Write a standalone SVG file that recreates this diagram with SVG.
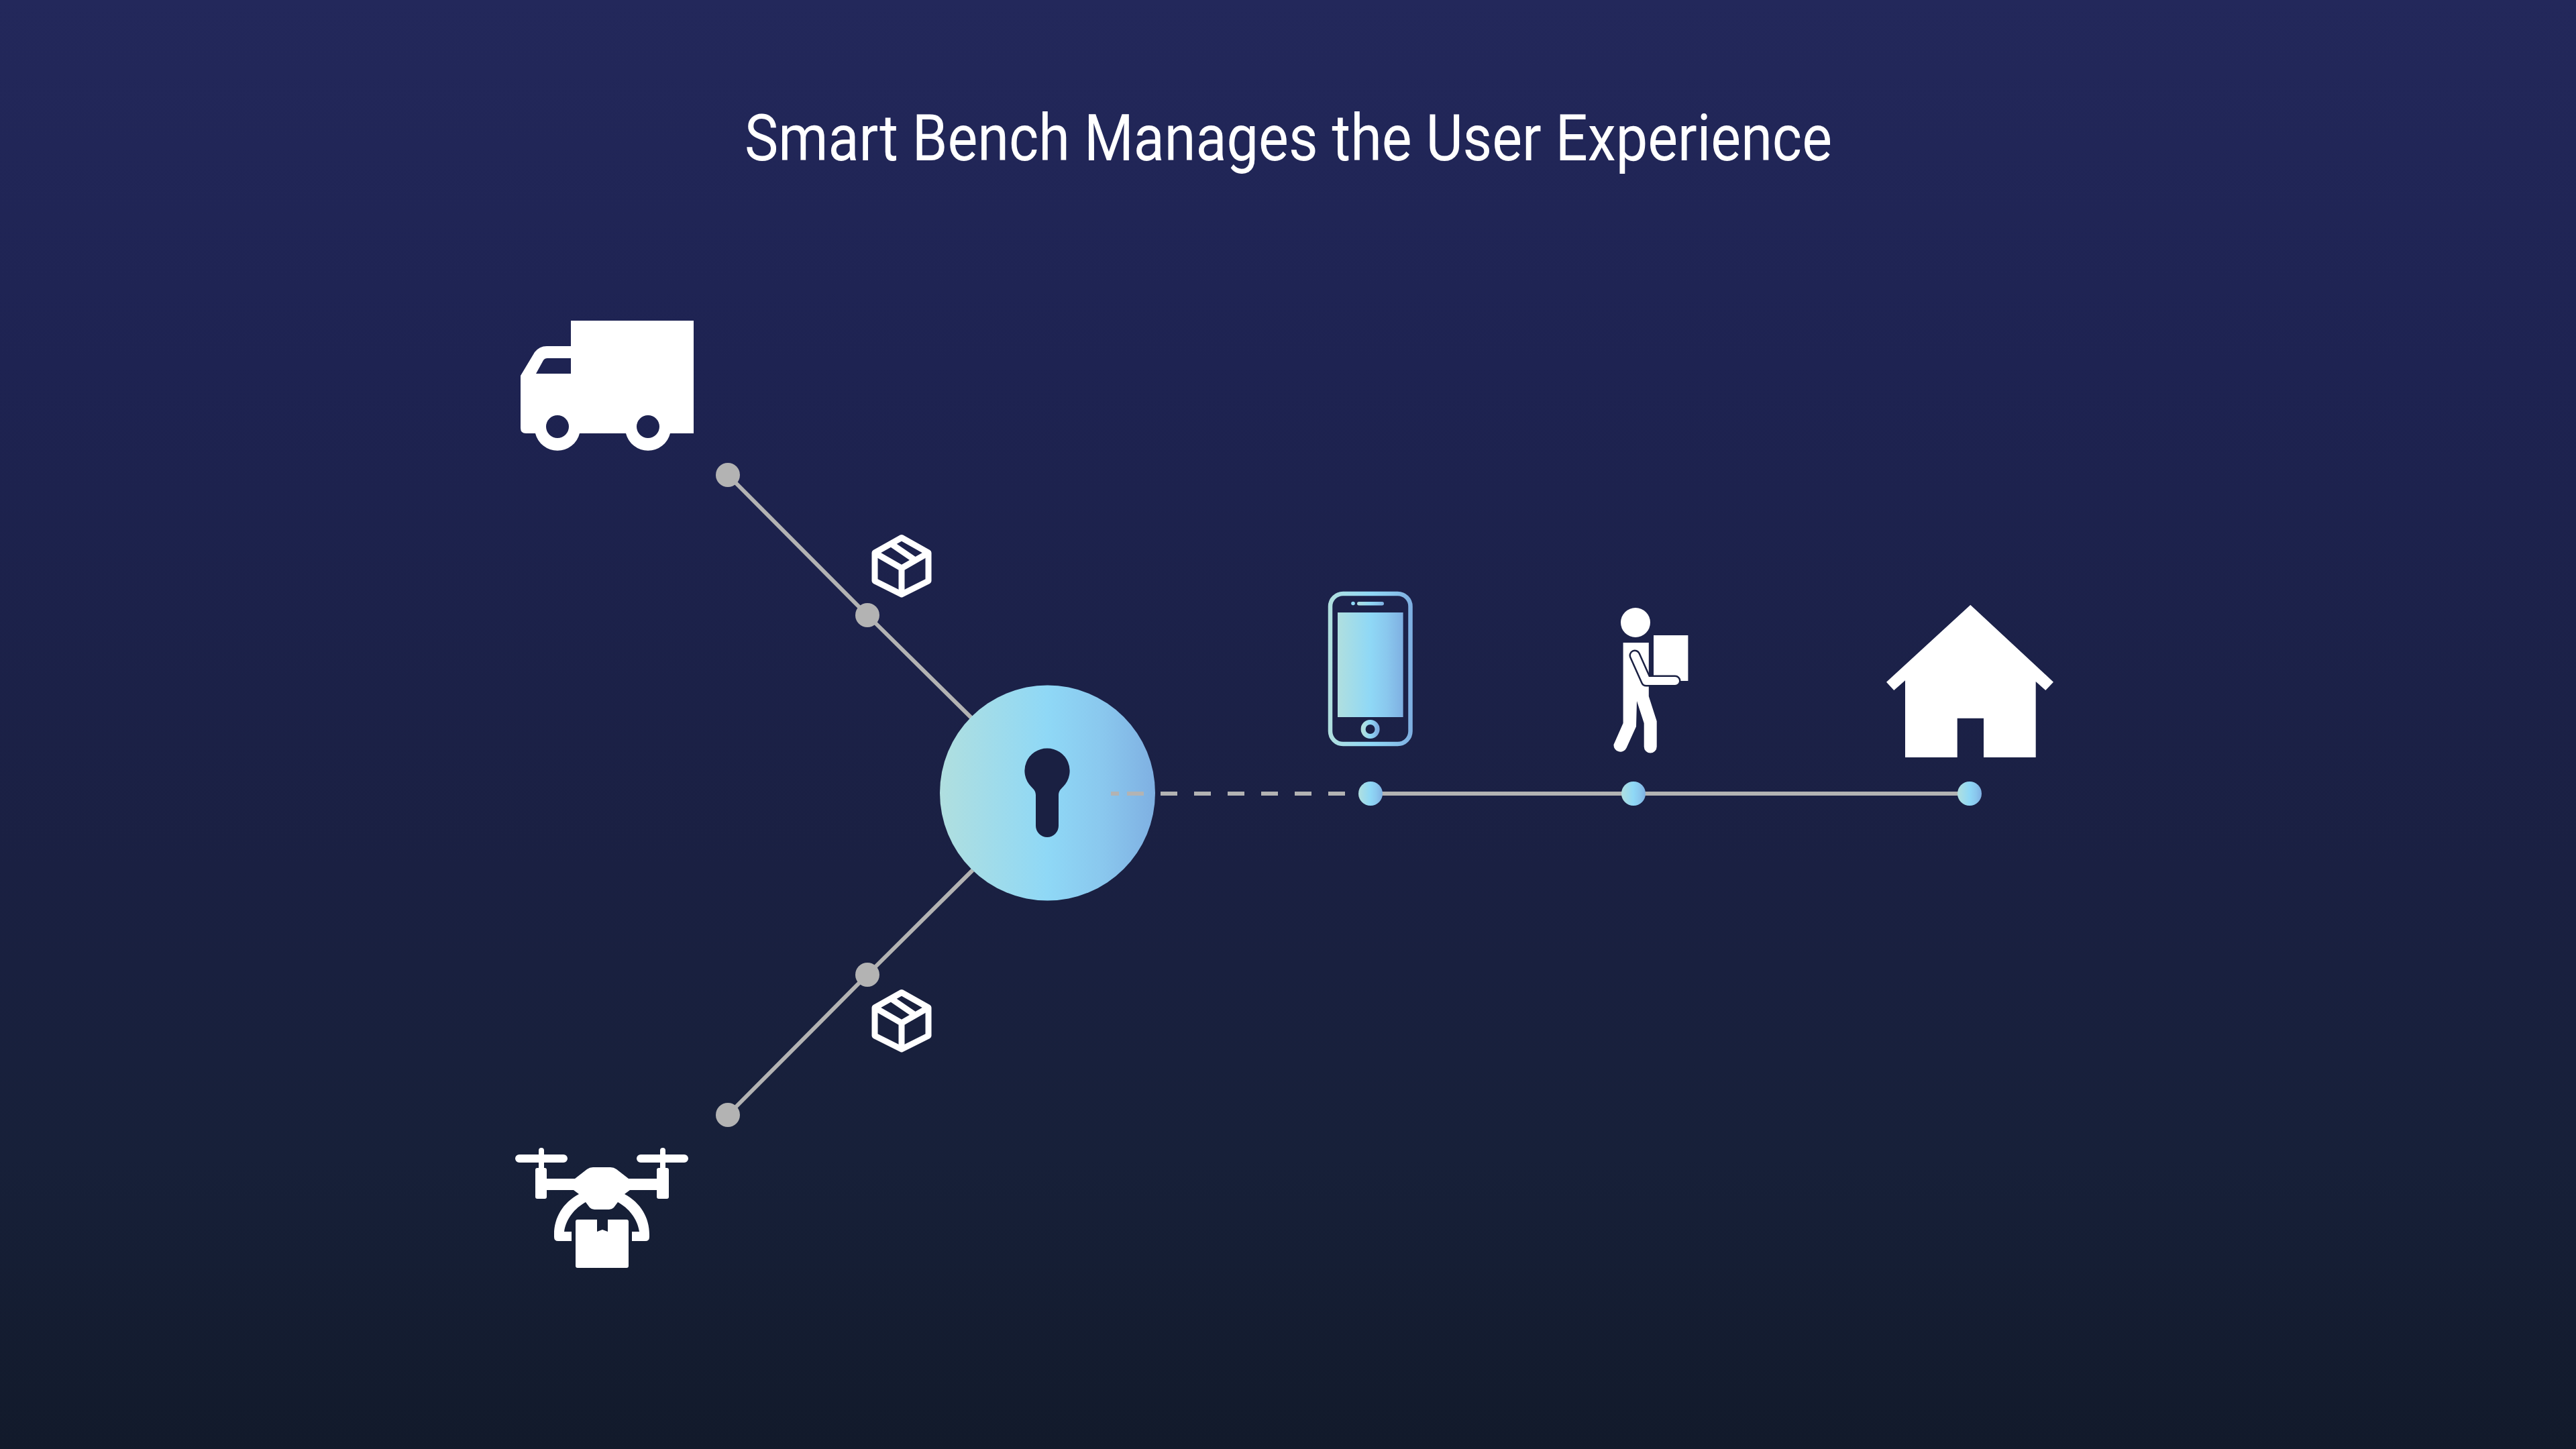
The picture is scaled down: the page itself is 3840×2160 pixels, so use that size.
<svg xmlns="http://www.w3.org/2000/svg" width="3840" height="2160" viewBox="0 0 3840 2160">
<style>
.w{fill:#fff}
.cn{fill:none;stroke:#b3b3b3;stroke-width:6}
.dot{fill:#b3b3b3}
.cube{fill:none;stroke:#fff;stroke-width:9;stroke-linejoin:round;stroke-linecap:butt}
.title{font-family:"Roboto","Liberation Sans",sans-serif;font-size:97px;fill:#fff}
</style>
<defs>
<linearGradient id="bg" x1="0" y1="0" x2="0" y2="1"><stop offset="0" stop-color="#23285b"/><stop offset="0.25" stop-color="#1e2352"/><stop offset="0.6" stop-color="#1a2042"/><stop offset="0.8" stop-color="#172039"/><stop offset="1" stop-color="#121a2b"/></linearGradient>
<linearGradient id="g"><stop offset="0" stop-color="#b0dfdf"/><stop offset="0.5" stop-color="#8fd8f6"/><stop offset="0.75" stop-color="#8ac8ee"/><stop offset="1" stop-color="#7fb0e2"/></linearGradient>
<g id="cube"><path class="cube" d="M1344 801.500L1384 824V866L1344 886L1304 866V824Z"/><path class="cube" d="M1304 824L1344 847L1384 824M1344 847V886M1329 811L1364 835"/></g>
</defs>
<rect width="3840" height="2160" fill="url(#bg)"/>
<text class="title" id="title" x="1110" y="238.500" textLength="1621" lengthAdjust="spacingAndGlyphs">Smart Bench Manages the User Experience</text>
<g id="connectors">
<path class="cn" d="M1085 708L1293 917L1450 1072"/>
<path class="cn" d="M1085 1662L1293 1453L1450 1297"/>
<path class="cn" d="M2043 1183H2936"/>
</g>
<g id="hub"><circle cx="1561.500" cy="1182" r="160.500" fill="url(#g)"/>
<path fill="#1a2042" d="M1561 1115.500a33.500 33.500 0 0 1 24 57c-4 4-7 7-7 13V1231a17 17 0 0 1-34 0V1185.500c0-6-3-9-7-13a33.500 33.500 0 0 1 24-57Z"/></g>
<g id="dashes"><path class="cn" d="M1656 1183H1668"/><path class="cn" stroke-dasharray="25 25" d="M1680 1183H2006"/></g>
<g id="dot-t1"><circle class="dot" cx="1085" cy="708" r="18"/></g>
<g id="dot-t2"><circle class="dot" cx="1293" cy="917" r="18"/></g>
<g id="dot-b1"><circle class="dot" cx="1293" cy="1453" r="18"/></g>
<g id="dot-b2"><circle class="dot" cx="1085" cy="1662" r="18"/></g>
<g id="dot-phone"><circle cx="2043" cy="1183" r="18" fill="url(#g)"/></g>
<g id="dot-person"><circle cx="2435" cy="1183" r="18" fill="url(#g)"/></g>
<g id="dot-home"><circle cx="2936" cy="1183" r="18" fill="url(#g)"/></g>
<g id="cube-top"><use href="#cube"/></g>
<g id="cube-bottom"><use href="#cube" y="678"/></g>
<g id="truck">
<path class="w" fill-rule="evenodd" d="M851 478H1034V646H999A34 34 0 0 1 933 646H864A34 34 0 0 1 798 646H784Q776 646 776 638V560L797 525Q804 516 815 516H851ZM851 534H816Q812 534 810 537L799 557H851ZM831 619A17 17 0 1 0 831 653A17 17 0 1 0 831 619ZM966 619A17 17 0 1 0 966 653A17 17 0 1 0 966 619Z"/>
</g>
<g id="drone">
<path class="w" fill-rule="evenodd" d="M774 1721H803V1715a4 4 0 0 1 8 0V1721H840a6 6 0 0 1 0 12H811V1741H812a3 3 0 0 1 3 3V1757H857L875 1743Q879 1740 884 1740H910Q915 1740 919 1743L937 1757H979V1744a3 3 0 0 1 3-3H984V1733H955a6 6 0 0 1 0-12H984V1715a4 4 0 0 1 8 0V1721H1020a6 6 0 0 1 0 12H992V1741H994a3 3 0 0 1 3 3V1784a3 3 0 0 1-3 3H982a3 3 0 0 1-3-3V1774H939L931 1780C955 1793 968 1815 968 1840V1844Q968 1850 962 1850H942V1836H953C950 1816 937 1801 921 1792L915 1800Q912 1803 908 1803H886Q882 1803 879 1800L873 1792C857 1801 844 1816 841 1836H852V1850H832Q826 1850 826 1844V1840C826 1815 839 1793 863 1780L855 1774H815V1784a3 3 0 0 1-3 3H801a3 3 0 0 1-3-3V1744a3 3 0 0 1 3-3H803V1733H774a6 6 0 0 1 0-12Z"/>
<path class="w" d="M861 1818H890V1836L898 1833L906 1836V1818H934a3 3 0 0 1 3 3V1887a3 3 0 0 1-3 3H861a3 3 0 0 1-3-3V1821a3 3 0 0 1 3-3Z"/>
</g>
<g id="phone">
<rect x="1983" y="885" width="119.500" height="224" rx="19" fill="none" stroke="url(#g)" stroke-width="6.500"/>
<rect x="1994" y="913" width="97.600" height="156" fill="url(#g)"/>
<rect x="2023" y="897" width="40" height="5.500" rx="2.700" fill="url(#g)"/>
<circle cx="2017" cy="899.500" r="2.800" fill="#8fd8f6"/>
<circle cx="2042.600" cy="1087" r="10.500" fill="none" stroke="url(#g)" stroke-width="7"/>
</g>
<g id="person">
<circle class="w" cx="2438" cy="928" r="22"/>
<rect class="w" x="2465" y="947" width="51.400" height="68"/>
<path class="w" d="M2419.600 958H2457.800V1038L2469.700 1075V1113a9.500 9.500 0 0 1-19 0V1078L2440 1045L2439 1083L2424.500 1115a10 10 0 0 1-19-5L2419.600 1078Z"/>
<path d="M2437 977L2454 1015H2497" fill="none" stroke="#1a2042" stroke-width="17" stroke-linecap="round" stroke-linejoin="round"/>
<path d="M2437 977L2454 1015H2497" fill="none" stroke="#fff" stroke-width="12" stroke-linecap="round" stroke-linejoin="round"/>
</g>
<g id="house">
<path class="w" d="M2937.300 901.700L3061 1016.700L3049.300 1029L3034.700 1016V1129H2957V1070.700H2917.700V1129H2840V1014.300L2823.300 1029L2812 1016.700Z"/>
</g>
</svg>
